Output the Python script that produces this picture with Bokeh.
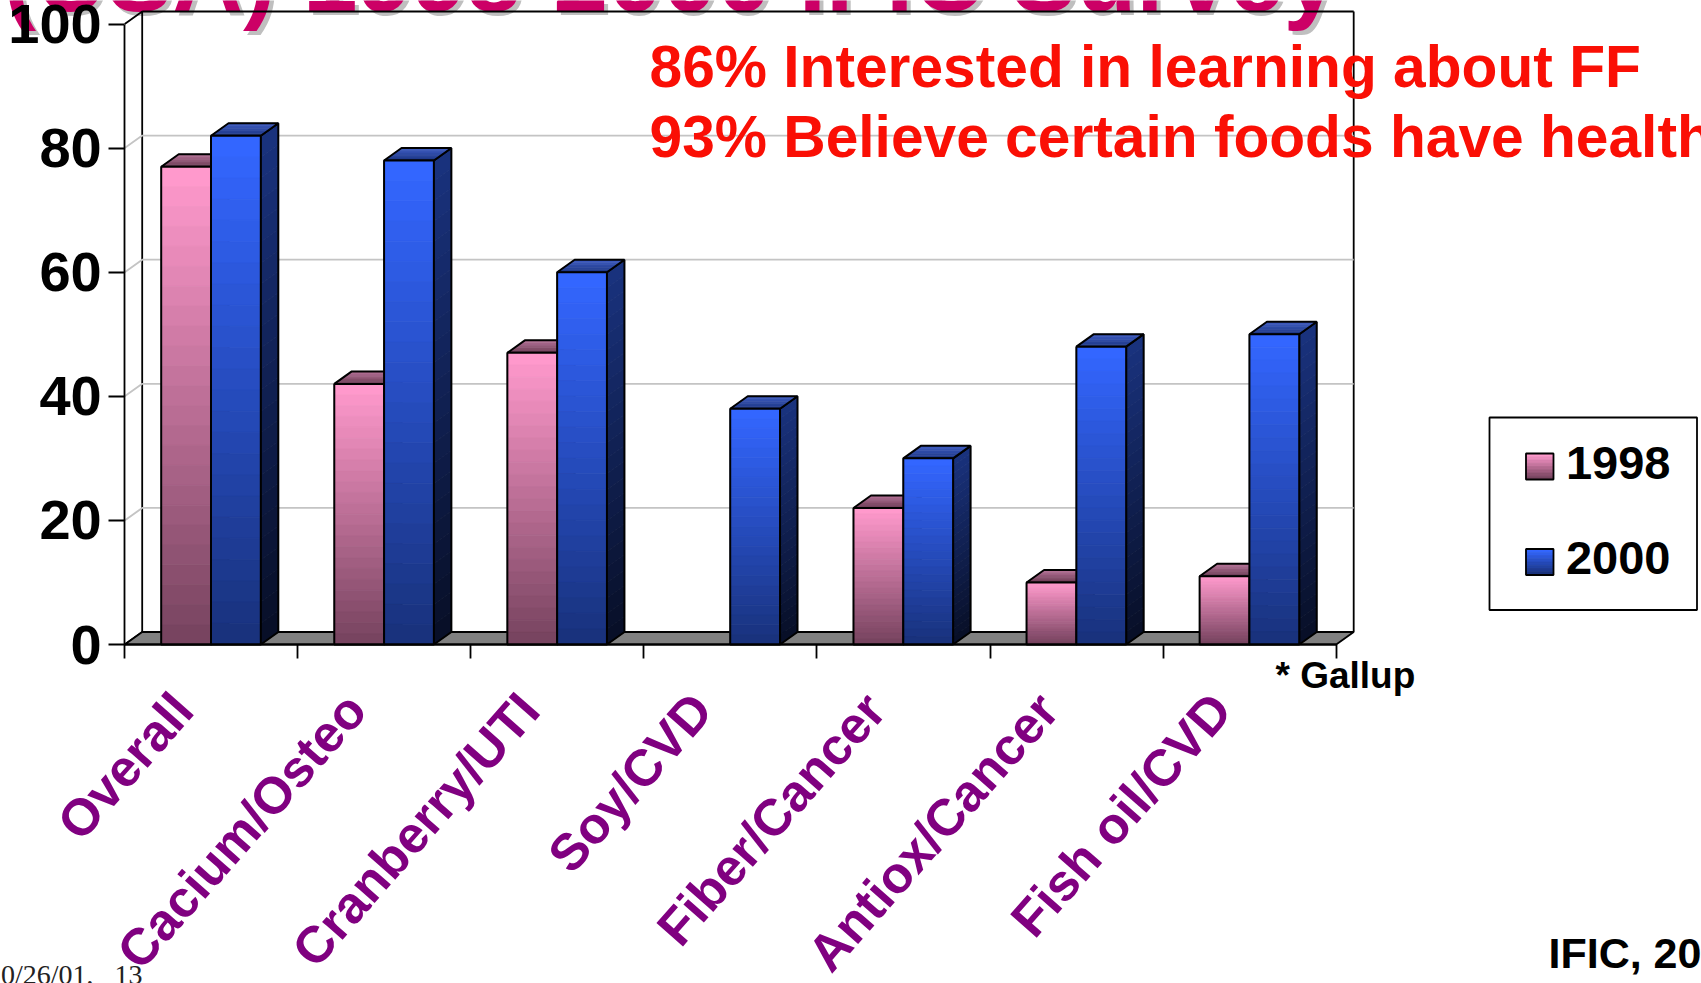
from bokeh.core.properties import value as fixed
from bokeh.embed import file_html
from bokeh.models import FixedTicker, LinearAxis, Range1d
from bokeh.plotting import figure
from bokeh.resources import INLINE

categories = ["Overall", "Cacium/Osteo", "Cranberry/UTI", "Soy/CVD",
              "Fiber/Cancer", "Antiox/Cancer", "Fish oil/CVD"]
values_1998 = [77, 42, 47, 0, 22, 10, 11]
values_2000 = [82, 78, 60, 38, 30, 48, 50]
series_names = ["1998", "2000"]
y_ticks = [0, 20, 40, 60, 80, 100]

WIDTH, HEIGHT = 1701, 983
LEFT, BASE = 124.2, 644.0          # page position of the chart origin
PX_PER_CAT = 173.07
PX_PER_UNIT = 6.205
FONT = "Liberation Sans"
BASELINE_LIFT = 0.365              # text sits this many ems below its anchor

DEPTH_X = 17.5 / PX_PER_CAT        # oblique offset of the back wall
DEPTH_Y = 12.5 / PX_PER_UNIT
BAR_GAP = 36.5 / PX_PER_CAT
BAR_W = 49.8 / PX_PER_CAT
N_BANDS = 24
LABEL_SHIFT = 0.165                # slanted names end left of the group centre
EDGE = 2.0                         # outline width of the bars
FRAME = 1.8                        # outline width of walls and axes


def X(px):
    return (px - LEFT) / PX_PER_CAT


def Y(py):
    return (BASE - py) / PX_PER_UNIT


def mix(c0, c1, t):
    return "#%02x%02x%02x" % tuple(round(a + (b - a) * t) for a, b in zip(c0, c1))


PINK = dict(front=((255, 153, 204), (120, 68, 96)),
            side=((122, 70, 98), (60, 34, 48)),
            top=((178, 112, 148), (116, 66, 92)))
BLUE = dict(front=((51, 102, 255), (25, 50, 125)),
            side=((25, 50, 125), (8, 15, 40)),
            top=((60, 90, 190), (32, 58, 140)))

# The frame fills the page; both axes sit at fixed data positions inside it
p = figure(width=WIDTH, height=HEIGHT, output_backend="svg", toolbar_location=None,
           x_range=Range1d(X(0), X(WIDTH)), y_range=Range1d(Y(HEIGHT), Y(0)),
           x_axis_location=None, y_axis_location=None,
           min_border_left=0, min_border_right=0, min_border_top=0, min_border_bottom=0)
p.outline_line_color = None
p.grid.visible = False
p.background_fill_color = "white"
p.border_fill_color = "white"


def text(s, px, py, size, color, align="left", font=FONT, style="bold"):
    p.text(x=[X(px)], y=[Y(py - BASELINE_LIFT * size)], text=[s], text_font=fixed(font),
           text_font_style=style, text_font_size=f"{size}px", text_color=color,
           text_align=align, text_baseline="alphabetic")


# Slide heading, cut by the top of the page and lying behind the chart
for dx, color in [(4, "#bfbfbf"), (0, "#cc0066")]:
    text("(USA) 1998-2000 IFIC Survey", 3 + dx, 12 + dx, 98, color)

# Back wall, floor and the gridlines that wrap from the left wall to the back
p.line([0, DEPTH_X, DEPTH_X, 7 + DEPTH_X, 7 + DEPTH_X],
       [100, 100 + DEPTH_Y, DEPTH_Y, DEPTH_Y, 100 + DEPTH_Y],
       line_color="black", line_width=FRAME)
p.line([DEPTH_X, 7 + DEPTH_X], [100 + DEPTH_Y, 100 + DEPTH_Y], line_color="black", line_width=FRAME)
for t in y_ticks[1:-1]:
    p.line([0, DEPTH_X, 7 + DEPTH_X], [t, t + DEPTH_Y, t + DEPTH_Y],
           line_color="#c4c4c4", line_width=FRAME)
p.line([0, DEPTH_X], [0, DEPTH_Y], line_color="black", line_width=FRAME)
p.patch([0, 7, 7 + DEPTH_X, DEPTH_X], [0, 0, DEPTH_Y, DEPTH_Y],
        fill_color="#808080", line_color="black", line_width=FRAME)


def bar(x0, height, style):
    x1 = x0 + BAR_W
    # right-hand face
    xs, ys, cols = [], [], []
    for i in range(N_BANDS):
        a, b = height * (1 - i / N_BANDS), height * (1 - (i + 1) / N_BANDS)
        xs.append([x1, x1 + DEPTH_X, x1 + DEPTH_X, x1])
        ys.append([a, a + DEPTH_Y, b + DEPTH_Y, b])
        cols.append(mix(*style["side"], i / (N_BANDS - 1)))
    p.patches(xs, ys, fill_color=cols, line_color=cols, line_width=0.8)
    p.patch([x1, x1 + DEPTH_X, x1 + DEPTH_X, x1],
            [height, height + DEPTH_Y, DEPTH_Y, 0],
            fill_color=None, line_color="black", line_width=EDGE)
    # top face
    xs, ys, cols = [], [], []
    for i in range(5):
        a, b = 1 - i / 5, 1 - (i + 1) / 5
        xs.append([x0 + a * DEPTH_X, x1 + a * DEPTH_X, x1 + b * DEPTH_X, x0 + b * DEPTH_X])
        ys.append([height + a * DEPTH_Y, height + a * DEPTH_Y, height + b * DEPTH_Y, height + b * DEPTH_Y])
        cols.append(mix(*style["top"], i / 4))
    p.patches(xs, ys, fill_color=cols, line_color=cols, line_width=0.6)
    p.patch([x0, x1, x1 + DEPTH_X, x0 + DEPTH_X],
            [height, height, height + DEPTH_Y, height + DEPTH_Y],
            fill_color=None, line_color="black", line_width=EDGE)
    # front face, shaded over the height of the bar
    cols = [mix(*style["front"], i / (N_BANDS - 1)) for i in range(N_BANDS)]
    p.quad(left=x0, right=x1,
           top=[height * (1 - i / N_BANDS) for i in range(N_BANDS)],
           bottom=[height * (1 - (i + 1) / N_BANDS) for i in range(N_BANDS)],
           fill_color=cols, line_color=cols, line_width=0.8)
    p.quad(left=x0, right=x1, top=height, bottom=0,
           fill_color=None, line_color="black", line_width=EDGE)


for i, (a, b) in enumerate(zip(values_1998, values_2000)):
    if a > 0:
        bar(i + BAR_GAP, a, PINK)
    if b > 0:
        bar(i + BAR_GAP + BAR_W, b, BLUE)

# Axes
y_axis = LinearAxis(ticker=FixedTicker(ticks=y_ticks), bounds=(0, 100), fixed_location=0)
y_axis.major_label_text_font = FONT
y_axis.major_label_text_font_style = "bold"
y_axis.major_label_text_font_size = "56px"
y_axis.major_label_text_color = "black"
y_axis.major_label_standoff = 7
y_axis.major_tick_out = 16
y_axis.major_tick_in = 0
y_axis.minor_tick_line_color = None
y_axis.axis_line_width = FRAME
y_axis.major_tick_line_width = FRAME
p.add_layout(y_axis, "left")

label_ticks = [i + 0.5 - LABEL_SHIFT for i in range(len(categories))]
x_axis = LinearAxis(ticker=FixedTicker(ticks=label_ticks,
                                       minor_ticks=list(range(len(categories) + 1))),
                    bounds=(0, len(categories)), fixed_location=0)
x_axis.major_label_overrides = dict(zip(label_ticks, categories))
x_axis.major_label_orientation = 0.85
x_axis.major_label_text_font = FONT
x_axis.major_label_text_font_style = "bold"
x_axis.major_label_text_font_size = "51.5px"
x_axis.major_label_text_color = "#800080"
x_axis.major_label_standoff = 42
x_axis.major_tick_line_color = None
x_axis.minor_tick_out = 14
x_axis.minor_tick_in = 0
x_axis.minor_tick_line_width = FRAME
x_axis.axis_line_width = FRAME
p.add_layout(x_axis, "below")

# Legend box with shaded swatches
p.quad(left=X(1489), right=X(1696.5), top=Y(417), bottom=Y(609.5),
       fill_color="white", line_color="black", line_width=FRAME)
for name, style, top_px, base_px in [(series_names[0], PINK, 453, 480),
                                     (series_names[1], BLUE, 548.5, 575)]:
    n = 8
    h = 26.0 / n
    cols = [mix(*style["front"], i / (n - 1)) for i in range(n)]
    p.quad(left=X(1525.5), right=X(1553),
           top=[Y(top_px + i * h) for i in range(n)],
           bottom=[Y(top_px + (i + 1) * h) for i in range(n)],
           fill_color=cols, line_color=cols, line_width=0.8)
    p.quad(left=X(1525.5), right=X(1553), top=Y(top_px), bottom=Y(top_px + 26),
           fill_color=None, line_color="black", line_width=FRAME)
    text(name, 1670, base_px, 47, "black", align="right")

# Notes on the slide
text("86% Interested in learning about FF", 649, 87, 58.7, "#fa0f05")
text("93% Believe certain foods have health", 649, 157, 58.7, "#fa0f05")
text("* Gallup", 1275, 689, 37, "black")
text("IFIC, 2000", 1548, 968, 43, "black")
text("10/26/01,\u00a0\u00a0\u00a013", 142, 984, 28, "#222222", align="right",
     font="Liberation Serif", style="normal")

open("out.html", "w").write(file_html(p, INLINE))
